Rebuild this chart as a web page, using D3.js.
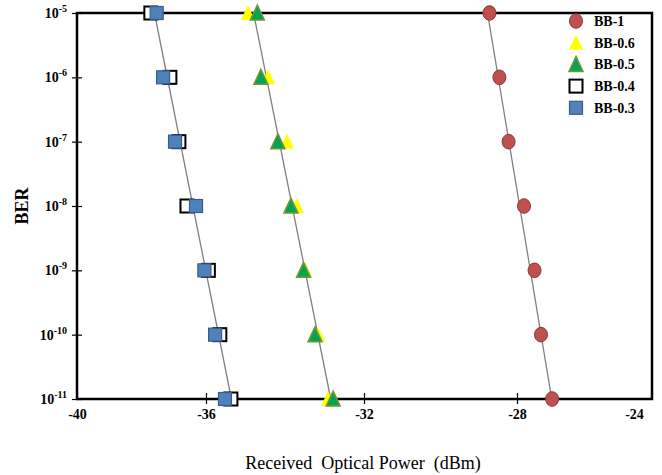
<!DOCTYPE html>
<html>
<head>
<meta charset="utf-8">
<script src="https://cdn.jsdelivr.net/npm/d3@7"></script>
<style>
  body { margin: 0; background: #fff; }
  text { font-family: "Liberation Serif", "Times New Roman", serif; }
</style>
</head>
<body>
<div id="chart"></div>
<script>
// BER levels (one point per decade)
var berLevels = [1e-5, 1e-6, 1e-7, 1e-8, 1e-9, 1e-10, 1e-11];

// received optical power (dBm) for each series
var bb1  = [-28.72, -28.46, -28.22, -27.76, -27.40, -27.18, -26.80];
var bb06 = [-34.94, -34.43, -33.95, -33.70, -33.49, -33.16, -32.91];
var bb05 = [-34.70, -34.61, -34.18, -33.85, -33.53, -33.24, -32.78];
var bb04 = [-37.71, -37.12, -36.84, -36.59, -35.94, -35.65, -35.37];
var bb03 = [-37.53, -37.33, -36.96, -36.31, -36.05, -35.77, -35.52];

var seriesNames = ["BB-1", "BB-0.6", "BB-0.5", "BB-0.4", "BB-0.3"];
var xTicks = [-40, -36, -32, -28, -24];
var yTicks = [-5, -6, -7, -8, -9, -10, -11];

var W = 662, H = 475;
var plotL = 77, plotT = 13, plotR = 652, plotB = 399;

var svg = d3.select("#chart").append("svg")
    .attr("width", W)
    .attr("height", H);

// x axis of the original is not evenly spaced, so use a polylinear scale
var x = d3.scaleLinear()
    .domain(xTicks)
    .range([77, 206, 364, 517, 634]);

var y = d3.scaleLog()
    .domain([1e-11, 1e-5])
    .range([plotB, plotT]);

// fitted trend line for a group of series (power vs log10 BER)
function fitLine(groups) {
    var pts = [];
    groups.forEach(function(s) {
        s.forEach(function(v, i) { pts.push([Math.log10(berLevels[i]), v]); });
    });
    var mx = d3.mean(pts, d => d[0]), my = d3.mean(pts, d => d[1]);
    var sxy = d3.sum(pts, d => (d[0] - mx) * (d[1] - my));
    var sxx = d3.sum(pts, d => (d[0] - mx) * (d[0] - mx));
    var b = sxy / sxx, a = my - b * mx;
    return [1e-5, 1e-11].map(function(e) { return [a + b * Math.log10(e), e]; });
}

var line = d3.line()
    .x(d => x(d[0]))
    .y(d => y(d[1]));

[fitLine([bb1]), fitLine([bb06, bb05]), fitLine([bb04, bb03])].forEach(function(l) {
    svg.append("path")
        .attr("d", line(l))
        .attr("fill", "none")
        .attr("stroke", "#7f7f7f")
        .attr("stroke-width", 1.3);
});

// frame
svg.append("rect")
    .attr("x", plotL).attr("y", plotT)
    .attr("width", plotR - plotL).attr("height", plotB - plotT)
    .attr("fill", "none")
    .attr("stroke", "#000")
    .attr("stroke-width", 2.5);

// x axis ticks and labels
var xAxis = svg.append("g")
    .attr("transform", "translate(0," + plotB + ")")
    .call(d3.axisBottom(x).tickValues(xTicks).tickSize(5).tickFormat(d => String(d)))
    .attr("font-family", "'Liberation Serif', serif")
    .attr("font-size", 14)
    .attr("font-weight", "bold");
xAxis.select(".domain").remove();
xAxis.selectAll(".tick line")
    .attr("y1", -6).attr("y2", 5)
    .attr("stroke", "#000")
    .attr("stroke-width", 1.2)
    .style("display", d => (d === -40 || d === -24) ? "none" : null);
xAxis.selectAll(".tick text")
    .attr("y", 10)
    .attr("fill", "#000");

// y axis ticks and labels
var yAxis = svg.append("g")
    .attr("transform", "translate(" + plotL + ",0)")
    .call(d3.axisLeft(y).tickValues(yTicks.map(e => Math.pow(10, e))).tickSize(5).tickFormat(""));
yAxis.select(".domain").remove();
yAxis.selectAll(".tick line")
    .attr("x1", -5).attr("x2", 5)
    .attr("stroke", "#000")
    .attr("stroke-width", 1.2);

var yl = svg.append("g");
yTicks.forEach(function(e) {
    var t = yl.append("text")
        .attr("x", 67)
        .attr("y", y(Math.pow(10, e)) + 5)
        .attr("text-anchor", "end")
        .style("font-size", "14px")
        .style("font-weight", "bold");
    t.append("tspan").text("10");
    t.append("tspan").attr("dy", -6).style("font-size", "10px").text(String(e));
});

// axis titles
svg.append("text")
    .attr("transform", "translate(28," + ((plotT + plotB) / 2) + ") rotate(-90)")
    .attr("text-anchor", "middle")
    .style("font-size", "18px")
    .style("font-weight", "bold")
    .text("BER");

svg.append("text")
    .attr("x", 363)
    .attr("y", 469)
    .attr("text-anchor", "middle")
    .attr("xml:space", "preserve")
    .style("white-space", "pre")
    .style("font-size", "18px")
    .text("Received  Optical Power  (dBm)");

// marker drawing
var styles = {
    "BB-1":   {fill: "#c0504d", stroke: "#8c3836"},
    "BB-0.6": {fill: "#ffff00", stroke: "none"},
    "BB-0.5": {fill: "#00a651", stroke: "#77933c"},
    "BB-0.4": {fill: "#ffffff", stroke: "#000000"},
    "BB-0.3": {fill: "#4f81bd", stroke: "#385d8a"}
};

function marker(g, name, cx, cy) {
    var st = styles[name];
    if (name === "BB-1") {
        g.append("ellipse").attr("cx", cx).attr("cy", cy).attr("rx", 6.5).attr("ry", 7.3)
            .attr("fill", st.fill).attr("stroke", st.stroke).attr("stroke-width", 1);
    } else if (name === "BB-0.6" || name === "BB-0.5") {
        g.append("path")
            .attr("d", "M" + cx + "," + (cy - 8) + "L" + (cx + 7) + "," + (cy + 7) + "L" + (cx - 7) + "," + (cy + 7) + "Z")
            .attr("fill", st.fill).attr("stroke", st.stroke).attr("stroke-width", st.stroke === "none" ? 0 : 1.5);
    } else {
        g.append("rect").attr("x", cx - 6.5).attr("y", cy - 6.5).attr("width", 13).attr("height", 13)
            .attr("fill", st.fill).attr("stroke", st.stroke).attr("stroke-width", name === "BB-0.4" ? 2 : 1.2);
    }
}

var pts = svg.append("g");
[["BB-1", bb1], ["BB-0.6", bb06], ["BB-0.5", bb05], ["BB-0.4", bb04], ["BB-0.3", bb03]].forEach(function(s) {
    s[1].forEach(function(v, i) {
        marker(pts, s[0], x(v), y(berLevels[i]));
    });
});

// legend
var lg = svg.append("g");
seriesNames.forEach(function(name, i) {
    var ly = 21 + i * 21.7;
    marker(lg, name, 576, ly);
    lg.append("text")
        .attr("x", 594)
        .attr("y", ly + 5)
        .style("font-size", "14px")
        .style("font-weight", "bold")
        .text(name);
});
</script>
</body>
</html>
